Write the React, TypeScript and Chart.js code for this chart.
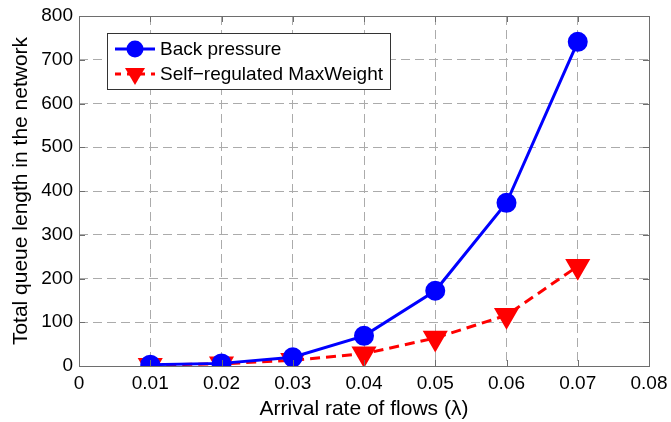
import React, { useEffect, useRef } from "react";
import { Chart, registerables } from "chart.js";
Chart.register(...registerables);

const xValues = [0.01, 0.02, 0.03, 0.04, 0.05, 0.06, 0.07];
const backPressure = [3, 6, 20, 69, 172, 373, 741];
const selfRegulated = [2, 5, 13, 28, 64, 116, 228];
const seriesLabels = ["Back pressure", "Self\u2212regulated MaxWeight"];
const xTitle = "Arrival rate of flows (\u03bb)";
const yTitle = "Total queue length in the network";

const FONT = "'Liberation Sans', Arial, sans-serif";

const framePlugin = {
  id: "frame",
  afterDraw(chart: any) {
    const { ctx, chartArea: a } = chart;
    ctx.save();
    ctx.strokeStyle = "#6e6e6e";
    ctx.lineWidth = 1;
    ctx.strokeRect(a.left + 0.5, a.top + 0.5, a.right - a.left, a.bottom - a.top);
    const xs = chart.scales.x, ys = chart.scales.y;
    ctx.beginPath();
    ys.ticks.forEach((t: any) => {
      const y = Math.round(ys.getPixelForValue(t.value)) + 0.5;
      ctx.moveTo(a.right, y); ctx.lineTo(a.right - 6, y);
      ctx.moveTo(a.left, y); ctx.lineTo(a.left + 6, y);
    });
    xs.ticks.forEach((t: any) => {
      const x = Math.round(xs.getPixelForValue(t.value)) + 0.5;
      ctx.moveTo(x, a.top); ctx.lineTo(x, a.top + 6);
      ctx.moveTo(x, a.bottom); ctx.lineTo(x, a.bottom - 6);
    });
    ctx.stroke();

    // legend
    const lx = 107, ly = 33, lw = 283, lh = 56;
    ctx.fillStyle = "#ffffff";
    ctx.fillRect(lx, ly, lw, lh);
    ctx.strokeStyle = "#333";
    ctx.strokeRect(lx + 0.5, ly + 0.5, lw, lh);
    chart.data.datasets.forEach((ds: any, i: number) => {
      const yy = ly + 16 + i * 25;
      ctx.strokeStyle = ds.borderColor;
      ctx.lineWidth = 3;
      ctx.setLineDash(i === 1 ? [6, 6] : []);
      ctx.beginPath();
      ctx.moveTo(lx + 8, yy); ctx.lineTo(lx + 48, yy);
      ctx.stroke();
      ctx.setLineDash([]);
      ctx.fillStyle = ds.pointBackgroundColor;
      ctx.beginPath();
      if (i === 0) {
        ctx.arc(lx + 28, yy, 8.5, 0, Math.PI * 2);
      } else {
        ctx.moveTo(lx + 18, yy - 6);
        ctx.lineTo(lx + 38, yy - 6);
        ctx.lineTo(lx + 28, yy + 11);
        ctx.closePath();
      }
      ctx.fill();
      ctx.fillStyle = "#000";
      ctx.font = `19px ${FONT}`;
      ctx.textBaseline = "middle";
      ctx.textAlign = "left";
      ctx.fillText(ds.label, lx + 53, yy + 1);
    });
    ctx.restore();
  },
};

export default function App() {
  const ref = useRef<HTMLCanvasElement>(null);
  useEffect(() => {
    document.body.style.margin = "0";
    const chart = new Chart(ref.current!, {
      type: "line",
      data: {
        datasets: [
          {
            label: seriesLabels[0],
            data: xValues.map((x, i) => ({ x, y: backPressure[i] })),
            borderColor: "#0000ff",
            backgroundColor: "#0000ff",
            pointBackgroundColor: "#0000ff",
            pointBorderColor: "#0000ff",
            borderWidth: 3,
            pointRadius: 8.5,
            pointStyle: "circle",
          },
          {
            label: seriesLabels[1],
            data: xValues.map((x, i) => ({ x, y: selfRegulated[i] })),
            borderColor: "#ff0000",
            backgroundColor: "#ff0000",
            pointBackgroundColor: "#ff0000",
            pointBorderColor: "#ff0000",
            borderWidth: 3,
            borderDash: [10, 6],
            pointRadius: 11.5,
            pointStyle: "triangle",
            pointRotation: 180,
          },
        ],
      },
      options: {
        animation: false,
        responsive: false,
        layout: { padding: { top: 16, right: 22, left: 0, bottom: 0 } },
        plugins: { legend: { display: false }, tooltip: { enabled: false } },
        scales: {
          x: {
            type: "linear",
            min: 0,
            max: 0.08,
            ticks: {
              stepSize: 0.01,
              color: "#000",
              font: { family: FONT, size: 19 },
              padding: 6,
              callback: (v: any) => (v === 0 ? "0" : Number(v).toFixed(2)),
            },
            grid: { color: "#ababab", drawTicks: false },
            border: { display: false, dash: [9, 5] },
            title: {
              display: true,
              text: xTitle,
              color: "#000",
              font: { family: FONT, size: 21 },
              padding: { top: 0, bottom: 0 },
            },
            afterFit: (s: any) => { s.height = 56; s.paddingLeft = 0; s.paddingRight = 0; },
          },
          y: {
            min: 0,
            max: 800,
            ticks: {
              stepSize: 100,
              color: "#000",
              font: { family: FONT, size: 19 },
              padding: 6,
            },
            grid: { color: "#ababab", drawTicks: false },
            border: { display: false, dash: [9, 5] },
            title: {
              display: true,
              text: yTitle,
              color: "#000",
              font: { family: FONT, size: 21 },
              padding: { top: 9, bottom: 0 },
            },
            afterFit: (s: any) => { s.width = 79; s.paddingTop = 0; s.paddingBottom = 0; },
          },
        },
      },
      plugins: [framePlugin],
    });
    return () => chart.destroy();
  }, []);
  return <canvas ref={ref} width={671} height={422} style={{ display: "block" }} />;
}
